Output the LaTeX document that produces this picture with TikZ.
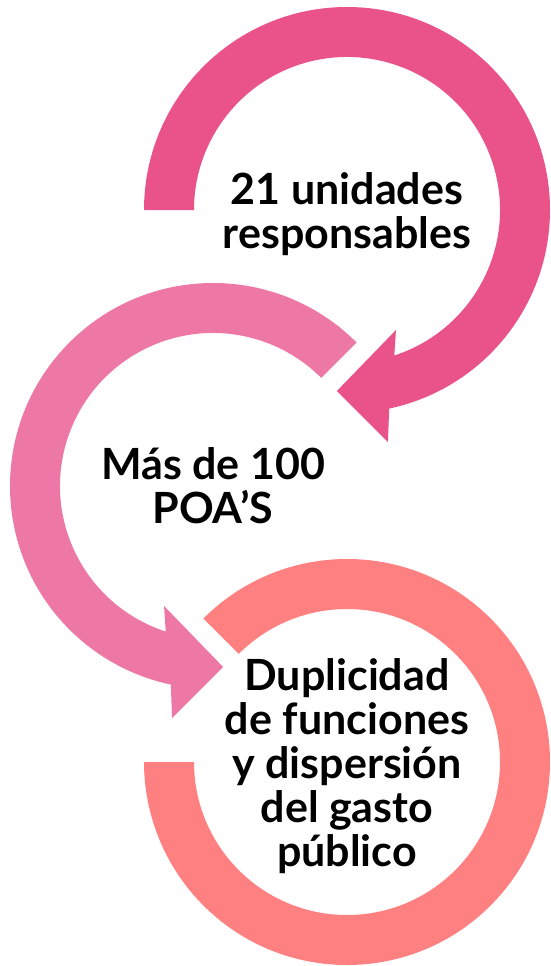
\documentclass[tikz,border=0pt]{standalone}
\usepackage{fontspec}
\setmainfont{Lato}
\definecolor{rosedark}{RGB}{233,83,138}
\definecolor{roselight}{RGB}{237,120,165}
\definecolor{salmonring}{RGB}{255,128,128}
\tikzset{every picture/.style={/utils/exec={\bfseries}}}
\usetikzlibrary{calc}

\begin{document}
\begin{tikzpicture}[x=1pt, y=1pt,
    ringtext/.style={align=center, inner sep=0pt, font=\fontsize{43}{44}\selectfont\bfseries}]
  \useasboundingbox (0,0) rectangle (551,-966);

  % centres of the three rings
  \coordinate (c1) at (347,-210);
  \coordinate (c2) at (213,-486);
  \coordinate (c3) at (347,-762);

  % first arrow, clockwise:
  \fill [rosedark] ($(c1)+(180:203pt)$) arc [start angle=180, end angle=-78, radius=203pt]
    -- ($(c1)+(-80:235.6pt)$) -- ($(c1)+(-93.2:181.3pt)$) -- ($(c1)+(-67.8:129.6pt)$)
    -- ($(c1)+(-72:153pt)$) arc [start angle=-72, end angle=180, radius=153pt] -- cycle;

  % second arrow, counter clockwise:
  \fill [roselight] ($(c2)+(45:203pt)$) arc [start angle=45, end angle=258, radius=203pt]
    -- ($(c2)+(260:235.6pt)$) -- ($(c2)+(273.2:181.3pt)$) -- ($(c2)+(247.8:129.6pt)$)
    -- ($(c2)+(252:153pt)$) arc [start angle=252, end angle=45, radius=153pt] -- cycle;

  % last ring, no head:
  \fill [salmonring] ($(c3)+(135:203pt)$) arc [start angle=135, end angle=-180, radius=203pt]
    -- ($(c3)+(180:153pt)$) arc [start angle=-180, end angle=135, radius=153pt] -- cycle;

  \node [ringtext, yshift=-4pt] (units) at (c1) {21 unidades\\responsables};
  \node [ringtext] (poas) at (c2) {Más de 100\\POA’S};
  \node [ringtext, yshift=-4pt] (duplicity) at (c3) {Duplicidad\\de funciones\\y dispersión\\del gasto\\público};

\end{tikzpicture}
\end{document}
